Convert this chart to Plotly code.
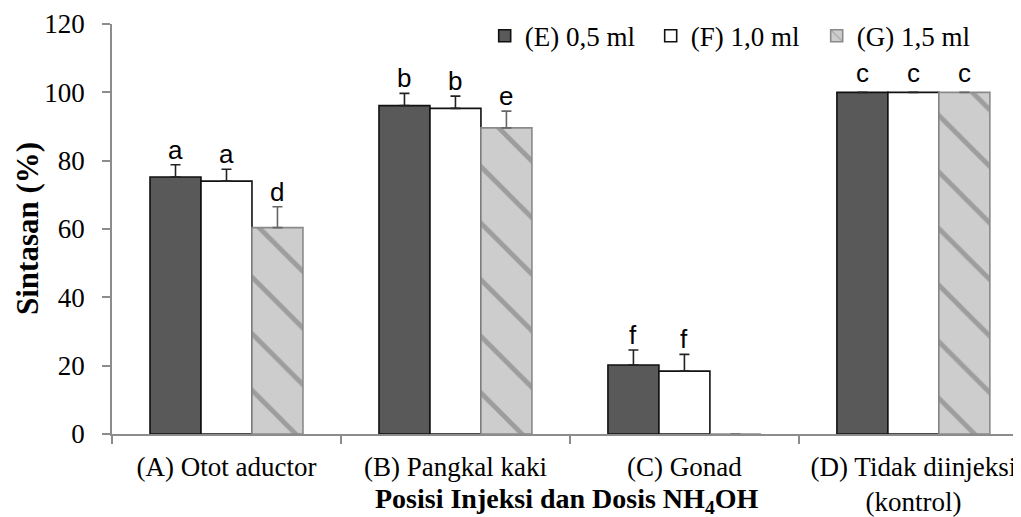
import plotly.graph_objects as go

categories = ["(A) Otot aductor", "(B) Pangkal kaki", "(C) Gonad", "(D) Tidak diinjeksi<br>(kontrol)"]
series_names = ["(E) 0,5 ml", "(F) 1,0 ml", "(G) 1,5 ml"]
vals_E = [75.2, 96.1, 20.2, 100]
vals_F = [74.0, 95.3, 18.4, 100]
vals_G = [60.4, 89.6, 0, 100]
err_E = [3.6, 3.6, 4.4, 0]
err_F = [3.5, 3.6, 4.9, 0]
err_G = [6.1, 4.9, 0, 0]
letters_E = ["a", "b", "f", "c"]
letters_F = ["a", "b", "f", "c"]
letters_G = ["d", "e", "", "c"]

serif = "Liberation Serif"
sans = "Liberation Sans"

fig = go.Figure()

styles = [
    dict(color="#595959", line=dict(color="#111111", width=1.6)),
    dict(color="#ffffff", line=dict(color="#111111", width=1.6)),
    dict(color="#cfcfcf", line=dict(color="#8a8a8a", width=1.6),
         pattern=dict(shape="\\", bgcolor="#cdcdcd", fgcolor="#6e6e6e", size=40, solidity=0.12)),
]
err_colors = ["#222222", "#222222", "#666666"]
all_vals = [vals_E, vals_F, vals_G]
all_errs = [err_E, err_F, err_G]
all_letters = [letters_E, letters_F, letters_G]

for name, v, e, st, ec in zip(series_names, all_vals, all_errs, styles, err_colors):
    fig.add_trace(go.Bar(
        name=name, x=categories, y=v,
        marker=st,
        error_y=dict(type="data", array=e, arrayminus=[0] * len(e), symmetric=False,
                     color=ec, thickness=1.6, width=5, visible=True),
    ))

bargap = 0.332
bw = (1 - bargap) / 3
offsets = [-bw, 0, bw]
for s, (v, e, lab) in enumerate(zip(all_vals, all_errs, all_letters)):
    for i in range(len(categories)):
        if not lab[i]:
            continue
        fig.add_annotation(
            x=i + offsets[s], y=v[i] + e[i], xref="x", yref="y",
            text=lab[i], showarrow=False, yanchor="bottom", yshift=-2 if e[i] else 2,
            font=dict(family=sans, size=26, color="#000000"),
        )

fig.add_annotation(
    x=0.5, y=-0.161, xref="paper", yref="paper",
    text="<b>Posisi Injeksi dan Dosis NH<sub>4</sub>OH</b>", showarrow=False,
    xanchor="center", yanchor="middle",
    font=dict(family=serif, size=28, color="#000000"),
)
fig.add_annotation(
    x=-0.0935, y=0.5, xref="paper", yref="paper",
    text="<b>Sintasan (%)</b>", showarrow=False, textangle=-90,
    xanchor="center", yanchor="middle",
    font=dict(family=serif, size=31, color="#000000"),
)

fig.update_layout(
    width=1013, height=509,
    margin=dict(l=104, r=0, t=16, b=83),
    paper_bgcolor="white", plot_bgcolor="white",
    barmode="group", bargap=bargap, bargroupgap=0,
    font=dict(family=serif, size=27, color="#000000"),
    showlegend=True,
    legend=dict(orientation="h", x=0.41, y=1.03, xanchor="left", yanchor="top",
                font=dict(family=serif, size=27), bgcolor="rgba(0,0,0,0)",
                itemwidth=30, traceorder="normal",
                entrywidth=121, entrywidthmode="pixels"),
    xaxis=dict(range=[-0.5, 3.47], showline=True, linecolor="#8c8c8c", linewidth=1.5,
               ticks="outside", tickson="boundaries", ticklen=8, tickcolor="#8c8c8c",
               tickwidth=1.5, showgrid=False, automargin=False,
               tickfont=dict(family=serif, size=27), ticklabelstandoff=8),
    yaxis=dict(range=[0, 120], dtick=20, showline=True, linecolor="#8c8c8c", linewidth=1.5,
               ticks="outside", ticklen=8, tickcolor="#8c8c8c", tickwidth=1.5,
               showgrid=False, zeroline=False, automargin=False,
               tickfont=dict(family=serif, size=27), ticklabelstandoff=12),
)

fig.write_html("out.html")
